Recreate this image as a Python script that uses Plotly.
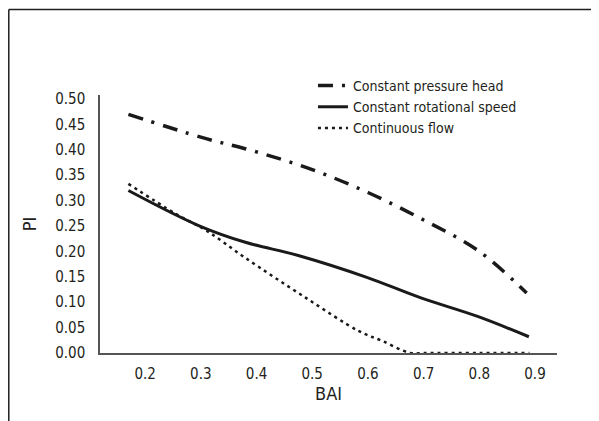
import plotly.graph_objects as go

# Data
bai_pressure = [0.17, 0.30, 0.40, 0.50, 0.60, 0.70, 0.80, 0.885]
pi_pressure = [0.470, 0.425, 0.396, 0.361, 0.316, 0.262, 0.200, 0.118]

bai_speed = [0.17, 0.296, 0.38, 0.475, 0.598, 0.694, 0.797, 0.889]
pi_speed = [0.320, 0.251, 0.218, 0.192, 0.149, 0.109, 0.072, 0.032]

bai_flow = [0.17, 0.255, 0.31, 0.379, 0.488, 0.584, 0.625, 0.676, 0.70, 0.80, 0.89]
pi_flow = [0.333, 0.274, 0.241, 0.188, 0.109, 0.043, 0.024, 0.000, 0.000, 0.000, 0.000]

x_ticks = [0.2, 0.3, 0.4, 0.5, 0.6, 0.7, 0.8, 0.9]
y_ticks = [0.00, 0.05, 0.10, 0.15, 0.20, 0.25, 0.30, 0.35, 0.40, 0.45, 0.50]

FONT = "Liberation Sans Narrow, DejaVu Sans Condensed, Arial Narrow, sans-serif"

fig = go.Figure()
fig.add_trace(go.Scatter(x=bai_pressure, y=pi_pressure, mode="lines",
                         name="Constant pressure head", line_shape="spline",
                         line=dict(color="#1a1a1a", width=3.5, dash="15px,9px,3px,9px")))
fig.add_trace(go.Scatter(x=bai_speed, y=pi_speed, mode="lines",
                         name="Constant rotational speed", line_shape="spline",
                         line=dict(color="#1a1a1a", width=3)))
fig.add_trace(go.Scatter(x=bai_flow, y=pi_flow, mode="lines",
                         name="Continuous flow", line_shape="spline",
                         line=dict(color="#1a1a1a", width=2.5, dash="3px,4px")))

fig.update_layout(
    width=591, height=413,
    margin=dict(l=92, r=42, t=87, b=68),
    paper_bgcolor="white", plot_bgcolor="white",
    font=dict(family=FONT, size=15, color="#231f20"),
    showlegend=True,
    legend=dict(x=0.466, y=1.097, xanchor="left", yanchor="top",
                bgcolor="rgba(0,0,0,0)", font=dict(size=14), tracegroupgap=0),
    xaxis=dict(range=[0.119, 0.9395], tickmode="array", tickvals=x_ticks,
               ticktext=[f"{v:.1f}" for v in x_ticks],
               showgrid=False, zeroline=False, showline=True, linecolor="#555555", linewidth=1.5,
               ticks="", ticklabelstandoff=6,
               title=dict(text="BAI", standoff=6)),
    yaxis=dict(range=[0, 0.508], tickmode="array", tickvals=y_ticks,
               ticktext=[f"{v:.2f}" for v in y_ticks],
               showgrid=False, zeroline=False, showline=True, linecolor="#555555", linewidth=1.5,
               ticks="", ticklabelstandoff=10,
               title=dict(text="PI", standoff=14)),
    shapes=[
        dict(type="line", xref="paper", yref="paper", x0=-0.1996, x1=1.2, y0=1.331, y1=1.331,
             line=dict(color="#231f20", width=1.5)),
        dict(type="line", xref="paper", yref="paper", x0=-0.1996, x1=-0.1996, y0=1.331, y1=-0.3,
             line=dict(color="#231f20", width=1.5)),
    ],
)

fig.write_html("out.html")
